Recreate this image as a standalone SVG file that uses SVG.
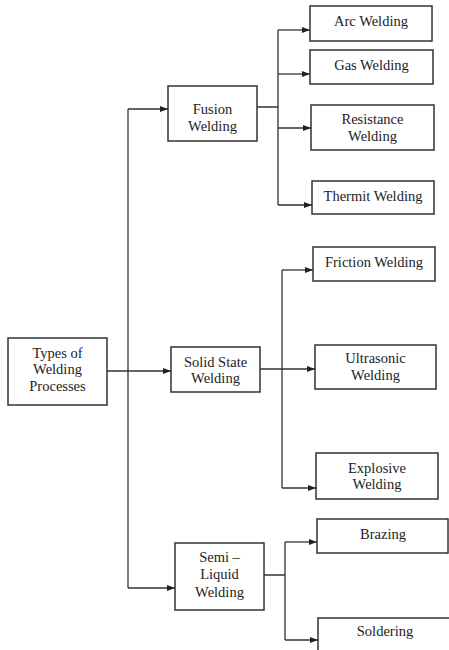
<svg xmlns="http://www.w3.org/2000/svg" width="449" height="650" viewBox="0 0 449 650">
<style>
rect{fill:#fff;stroke:#333;stroke-width:1.5}
text{font-family:"Liberation Serif","Times New Roman",serif;font-size:14.5px;fill:#222;text-anchor:middle}
.c{fill:none;stroke:#333;stroke-width:1.3}
</style>
<defs>
<marker id="a" markerUnits="userSpaceOnUse" markerWidth="9" markerHeight="8" refX="8" refY="4" orient="auto">
<path d="M0,1 L8,4 L0,7 Z" fill="#222"/>
</marker>
</defs>
<rect x="0" y="0" width="449" height="650" style="stroke:none"/>
<g id="connectors">
<path class="c" d="M107,371 H171" marker-end="url(#a)"/>
<path class="c" d="M128,109 V588"/>
<path class="c" d="M128,109 H168" marker-end="url(#a)"/>
<path class="c" d="M128,588 H175" marker-end="url(#a)"/>
<path class="c" d="M257,107 H278 M278,30 V205"/>
<path class="c" d="M278,30 H310" marker-end="url(#a)"/>
<path class="c" d="M278,74 H310" marker-end="url(#a)"/>
<path class="c" d="M278,128 H311" marker-end="url(#a)"/>
<path class="c" d="M278,205 H312" marker-end="url(#a)"/>
<path class="c" d="M260,369 H315" marker-end="url(#a)"/>
<path class="c" d="M282,270 V488"/>
<path class="c" d="M282,270 H313" marker-end="url(#a)"/>
<path class="c" d="M282,488 H316" marker-end="url(#a)"/>
<path class="c" d="M264,575 H285 M285,542 V640"/>
<path class="c" d="M285,542 H317" marker-end="url(#a)"/>
<path class="c" d="M285,640 H318" marker-end="url(#a)"/>
</g>
<g id="root"><rect x="8" y="338" width="99" height="67"/><text x="57.5" y="358">Types of</text><text x="57.5" y="374">Welding</text><text x="57.5" y="391">Processes</text></g>
<g id="fusion"><rect x="168" y="86" width="89" height="55"/><text x="212.5" y="114">Fusion</text><text x="212.5" y="131">Welding</text></g>
<g id="solid"><rect x="171" y="347" width="89" height="45"/><text x="215.5" y="367">Solid State</text><text x="215.5" y="383">Welding</text></g>
<g id="semi"><rect x="175" y="543" width="89" height="67"/><text x="219.5" y="562">Semi –</text><text x="219.5" y="579">Liquid</text><text x="219.5" y="597">Welding</text></g>
<g id="arc"><rect x="310" y="6" width="122" height="35"/><text x="371" y="26">Arc Welding</text></g>
<g id="gas"><rect x="310" y="50" width="123" height="34"/><text x="371.5" y="70">Gas Welding</text></g>
<g id="resistance"><rect x="311" y="105" width="123" height="45"/><text x="372.5" y="124">Resistance</text><text x="372.5" y="141">Welding</text></g>
<g id="thermit"><rect x="312" y="181" width="122" height="33"/><text x="373" y="201">Thermit Welding</text></g>
<g id="friction"><rect x="313" y="247" width="122" height="34"/><text x="374" y="267">Friction Welding</text></g>
<g id="ultrasonic"><rect x="315" y="345" width="121" height="44"/><text x="375.5" y="363">Ultrasonic</text><text x="375.5" y="380">Welding</text></g>
<g id="explosive"><rect x="316" y="453" width="122" height="46"/><text x="377" y="473">Explosive</text><text x="377" y="489">Welding</text></g>
<g id="brazing"><rect x="317" y="519" width="131" height="34"/><text x="383" y="539">Brazing</text></g>
<g id="soldering"><rect x="318" y="618" width="135" height="40"/><text x="385" y="636">Soldering</text></g>
</svg>
